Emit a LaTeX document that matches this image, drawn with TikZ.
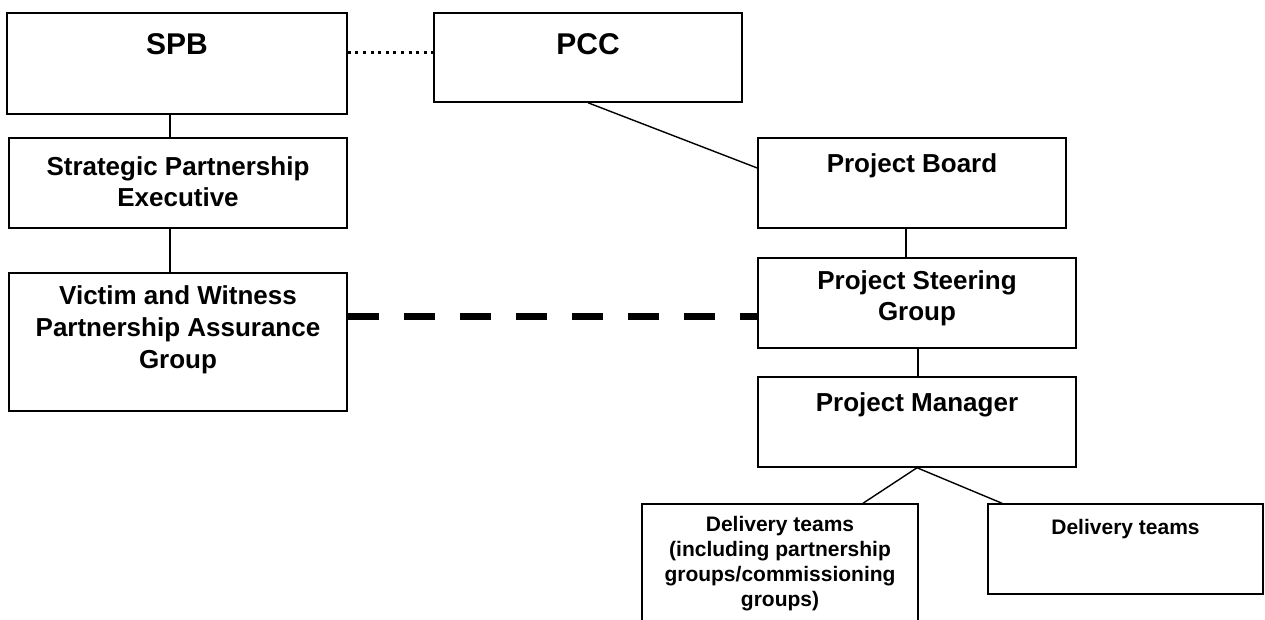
\documentclass[tikz,border=0pt]{standalone}
\usepackage{fontspec}
\setmainfont{Liberation Sans}
\usetikzlibrary{calc}
\tikzset{
  box/.style={draw=black, line width=1.5pt, fill=white, inner sep=0pt},
  lbl/.style={align=center, inner sep=0pt, font=\bfseries\fontsize{26}{31}\selectfont},
  biglbl/.style={align=center, inner sep=0pt, font=\bfseries\fontsize{30}{36}\selectfont},
  smalllbl/.style={align=center, inner sep=0pt, font=\bfseries\fontsize{21}{25}\selectfont},
  conn/.style={draw=black, line width=1.4pt},
  dotline/.style={draw=black, line width=3pt, dash pattern=on 3pt off 4.6pt},
  thickdash/.style={draw=black, line width=7pt, dash pattern=on 31pt off 25pt},
}
\begin{document}
\begin{tikzpicture}[x=1pt, y=-1pt]
\useasboundingbox[fill=white] (0,0) rectangle (1265,619);
% boxes
\node[box, minimum width=340pt, minimum height=101pt] (spb) at (177,63.5) {};
\node[box, minimum width=308pt, minimum height=89pt] (pcc) at (588,57.5) {};
\node[box, minimum width=338pt, minimum height=90pt] (spe) at (178,183) {};
\node[box, minimum width=338pt, minimum height=138pt] (vw) at (178,342) {};
\node[box, minimum width=308pt, minimum height=90pt] (pb) at (912,183) {};
\node[box, minimum width=318pt, minimum height=90pt] (psg) at (917,303) {};
\node[box, minimum width=318pt, minimum height=90pt] (pm) at (917,422) {};
\node[box, minimum width=276pt, minimum height=126pt] (dta) at (780,567) {};
\node[box, minimum width=275pt, minimum height=90pt] (dtb) at (1125.5,549) {};
% labels
\node[biglbl] (spbT) at (177,44) {SPB};
\node[biglbl] (pccT) at (588,44) {PCC};
\node[lbl] (speT) at (178,182) {Strategic Partnership\\Executive};
\node[lbl, font=\bfseries\fontsize{26}{32}\selectfont] (vwT) at (178,330) {Victim and Witness\\Partnership Assurance\\Group};
\node[lbl] (pbT) at (912,166) {Project Board};
\node[lbl] (psgT) at (917,298) {Project Steering\\Group};
\node[lbl] (pmT) at (917,405) {Project Manager};
\node[smalllbl] (dtaT) at (780,564) {Delivery teams\\(including partnership\\groups/commissioning\\groups)};
\node[smalllbl] (dtbT) at (1125.5,529) {Delivery teams};
% connectors
\draw[conn] ([xshift=-7pt]spb.south) -- ([xshift=-7pt]spb.south |- spe.north);
\draw[conn] ([xshift=-8pt]spe.south) -- ([xshift=-8pt]spe.south |- vw.north);
\draw[dotline] ([yshift=11.5pt]spb.east) -- ([yshift=11.5pt]spb.east -| pcc.west);
\draw[conn] (pcc.south) -- ([yshift=15pt]pb.west);
\draw[conn] ([xshift=-6pt]pb.south) -- ([xshift=-6pt]pb.south |- psg.north);
\draw[conn] ([xshift=1pt]psg.south) -- ([xshift=1pt]psg.south |- pm.north);
\draw[conn] (pm.south) -- ([xshift=83pt]dta.north);
\draw[conn] (pm.south) -- ([xshift=-123.5pt]dtb.north);
\draw[thickdash] ([yshift=26pt]vw.east) -- ([yshift=26pt]vw.east -| psg.west);
\end{tikzpicture}
\end{document}
